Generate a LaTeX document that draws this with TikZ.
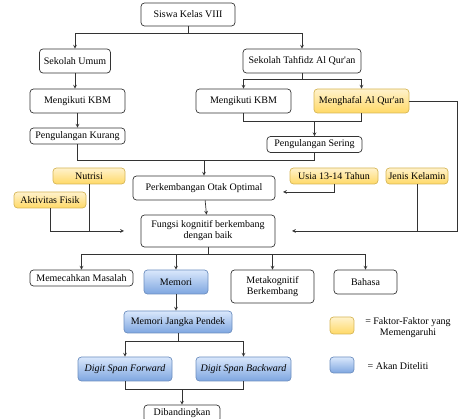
\documentclass[tikz,border=0pt]{standalone}
\usepackage{fontspec}
\setmainfont{Liberation Serif}
\definecolor{kuningA}{HTML}{FFF2CC}
\definecolor{kuningB}{HTML}{FFD966}
\definecolor{kuningC}{HTML}{D6B656}
\definecolor{biruA}{HTML}{DAE8FC}
\definecolor{biruB}{HTML}{7EA6E0}
\definecolor{biruC}{HTML}{6C8EBF}
\begin{document}
\begin{tikzpicture}[x=1pt,y=-1pt,>=stealth,
  every node/.style={font=\fontsize{10}{11}\selectfont,inner sep=0pt,align=center},
  kotak/.style={draw=black!80,line width=.7pt,rounded corners=3.5pt,fill=white},
  faktor/.style={draw=kuningC,line width=.7pt,rounded corners=3.5pt,top color=kuningA,bottom color=kuningB},
  teliti/.style={draw=biruC,line width=.7pt,rounded corners=3.5pt,top color=biruA,bottom color=biruB},
  garis/.style={draw=black!80,line width=.7pt}]
\useasboundingbox (0,0) rectangle (459,419);
% kotak-kotak
\node[kotak,minimum width=94,minimum height=23] (siswa) at (188,14.5) {Siswa Kelas VIII};
\node[kotak,minimum width=71,minimum height=24] (umum) at (75,61) {Sekolah Umum};
\node[kotak,minimum width=118,minimum height=24] (tahfidz) at (302,61) {Sekolah Tahfidz Al Qur\textquotesingle an};
\node[kotak,minimum width=95,minimum height=24] (kbmA) at (77.5,101) {Mengikuti KBM};
\node[kotak,minimum width=95,minimum height=24] (kbmB) at (243.5,101) {Mengikuti KBM};
\node[faktor,minimum width=95,minimum height=24] (hafal) at (361.5,101) {Menghafal Al Qur\textquotesingle an};
\node[kotak,minimum width=95,minimum height=16] (kurang) at (77.5,136) {Pengulangan Kurang};
\node[kotak,minimum width=95,minimum height=16] (sering) at (314.5,144.5) {Pengulangan Sering};
\node[faktor,minimum width=72,minimum height=16] (nutrisi) at (89,176) {Nutrisi};
\node[faktor,minimum width=72,minimum height=16] (aktif) at (50,200) {Aktivitas Fisik};
\node[kotak,minimum width=142,minimum height=24] (otak) at (204,188) {Perkembangan Otak Optimal};
\node[faktor,minimum width=88,minimum height=16] (usia) at (334,176) {Usia 13-14 Tahun};
\node[faktor,minimum width=62,minimum height=16] (kelamin) at (417,176) {Jenis Kelamin};
\node[kotak,minimum width=134,minimum height=32] (fungsi) at (208,231) {Fungsi kognitif berkembang\\dengan baik};
\node[kotak,minimum width=103,minimum height=16] (masalah) at (81.5,278) {Memecahkan Masalah};
\node[teliti,minimum width=64,minimum height=24] (memori) at (176,282) {Memori};
\node[kotak,minimum width=83,minimum height=33] (meta) at (272.5,286.5) {Metakognitif\\Berkembang};
\node[kotak,minimum width=63,minimum height=24] (bahasa) at (365.5,282) {Bahasa};
\node[teliti,minimum width=108,minimum height=22] (jangka) at (178,322) {Memori Jangka Pendek};
\node[teliti,minimum width=94,minimum height=24] (maju) at (125,369) {\itshape Digit Span Forward};
\node[teliti,minimum width=95,minimum height=24] (mundur) at (243.5,369) {\itshape Digit Span Backward};
\node[kotak,minimum width=76,minimum height=17] (banding) at (182,413.5) {Dibandingkan};
% keterangan
\node[faktor,minimum width=24,minimum height=17] (kunA) at (342,325.5) {};
\node[teliti,minimum width=24,minimum height=16] (kunB) at (342,365) {};
\node (ketA) at (408,328) {= Faktor-Faktor yang\\Memengaruhi};
\node (ketB) at (398,366) {= Akan Diteliti};
% panah
\draw[garis] (siswa.south) -- ++(0,7) coordinate (s1);
\draw[garis,->] (s1) -| (umum.north);
\draw[garis,->] (s1) -| (tahfidz.north);
\draw[garis,->] (umum.south) -- (umum.south |- kbmA.north);
\draw[garis,->] (kbmA) -- (kurang);
\draw[garis] (tahfidz.south) -- ++(0,6) coordinate (t1);
\draw[garis,->] (t1) -| (kbmB.north);
\draw[garis,->] (t1) -| (hafal.north);
\draw[garis] (kbmB.south) -- ++(0,8) coordinate (k1) -| (hafal.south);
\draw[garis,->] (k1 -| sering.north) -- (sering.north);
\draw[garis] (kurang.south) -- ++(0,16) coordinate (c1) -| (sering.south);
\draw[garis,->] (c1 -| otak.north) -- (otak.north);
\draw[garis,->] (otak) -- (fungsi);
\coordinate (fa) at (124,231);
\draw[garis,->] (aktif.south) |- (fa);
\draw[garis] (nutrisi.south) -- (nutrisi.south |- fa);
\coordinate (fu) at (283,192);
\draw[garis,->] (usia.south) |- (fu);
\coordinate (fj) at (292,231);
\coordinate (rt) at (457,231);
\draw[garis,->] (hafal.east) -| (rt) -- (fj);
\draw[garis] (kelamin.south) -- (kelamin.south |- fj);
\draw[garis] (fungsi.south) -- ++(0,7) coordinate (f1);
\foreach \n in {masalah,memori,meta,bahasa}
  \draw[garis,->] (f1) -| (\n.north);
\draw[garis,->] (memori) -- (memori |- jangka.north);
\draw[garis] (jangka.south) -- ++(0,8) coordinate (m1);
\draw[garis,->] (m1) -| (maju.north);
\draw[garis,->] (m1) -| (mundur.north);
\draw[garis] (maju.south) -- ++(0,8) coordinate (d1) -| (mundur.south);
\draw[garis,->] (d1 -| banding.north) -- (banding.north);
\end{tikzpicture}
\end{document}
